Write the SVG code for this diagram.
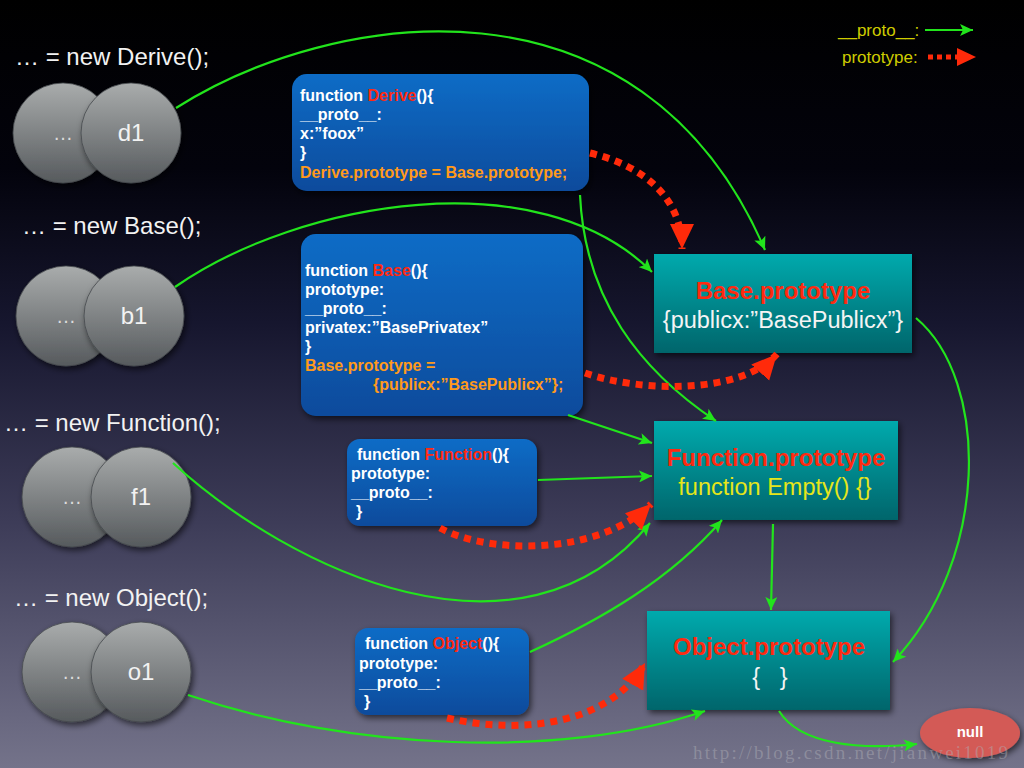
<svg xmlns="http://www.w3.org/2000/svg" width="1024" height="768" viewBox="0 0 1024 768">
<defs>
<linearGradient id="bg" x1="0" y1="0" x2="0" y2="1">
<stop offset="0" stop-color="#000000"/>
<stop offset="0.22" stop-color="#03030c"/>
<stop offset="0.42" stop-color="#16162e"/>
<stop offset="0.68" stop-color="#3d3c58"/>
<stop offset="1" stop-color="#74738a"/>
</linearGradient>
<linearGradient id="blue" x1="0" y1="0" x2="0" y2="1">
<stop offset="0" stop-color="#0b6cc6"/>
<stop offset="1" stop-color="#0a4b9c"/>
</linearGradient>
<linearGradient id="teal" x1="0" y1="0" x2="0" y2="1">
<stop offset="0" stop-color="#04aaad"/>
<stop offset="1" stop-color="#03656b"/>
</linearGradient>
<linearGradient id="ball" x1="0" y1="0" x2="0" y2="1">
<stop offset="0" stop-color="#a9acac"/>
<stop offset="1" stop-color="#565a5d"/>
</linearGradient>
<filter id="sh" x="-10%" y="-10%" width="130%" height="130%">
<feDropShadow dx="2" dy="3" stdDeviation="3" flood-color="#000" flood-opacity="0.6"/>
</filter>
<marker id="ga" markerUnits="userSpaceOnUse" markerWidth="14" markerHeight="12" refX="13" refY="6" orient="auto">
<path d="M0,0 L13,6 L0,12 L3,6 z" fill="#22e41c"/>
</marker>
<marker id="ra" markerUnits="userSpaceOnUse" markerWidth="26" markerHeight="26" refX="25" refY="12" orient="auto">
<path d="M0,0 L25,12 L0,24 z" fill="#ff2a0a"/>
</marker>
<style>
.g{fill:none;stroke:#22e41c;stroke-width:2.2;marker-end:url(#ga)}
.r{fill:none;stroke:#ff2a0a;stroke-width:7;stroke-dasharray:7 6;marker-end:url(#ra)}
.code{fill:url(#blue);filter:url(#sh)}
.proto{fill:url(#teal);filter:url(#sh)}
.ct{font-family:"Liberation Sans",Arial,sans-serif;font-weight:bold;font-size:16px;fill:#ffffff}
.rd{fill:#ff2a10}
.or{fill:#ff9a1a}
.hd{font-family:"Liberation Sans",Arial,sans-serif;font-size:24px;fill:#f2f2f2}
.ball{fill:url(#ball);stroke:#44484b;stroke-width:0.8;filter:url(#sh)}
.bl{font-family:"Liberation Sans",Arial,sans-serif;font-size:24px;fill:#f2f2f2;text-anchor:middle}
.dots{font-family:"Liberation Sans",Arial,sans-serif;font-size:20px;fill:#dcdcdc;text-anchor:middle}
.pt{font-family:"Liberation Sans",Arial,sans-serif;font-weight:bold;font-size:24px;fill:#ff2a10;text-anchor:middle}
.ps{font-family:"Liberation Sans",Arial,sans-serif;font-size:23.5px;text-anchor:middle}
.lg{font-family:"Liberation Sans",Arial,sans-serif;font-size:17px;fill:#cfcc00}
</style>
</defs>
<rect width="1024" height="768" fill="url(#bg)"/>

<g id="legend">
<text class="lg" x="838" y="36">__proto__:</text>
<line x1="925" y1="30" x2="973" y2="30" stroke="#22e41c" stroke-width="2.2" marker-end="url(#ga)"/>
<text class="lg" x="842" y="63">prototype:</text>
<line x1="928" y1="57" x2="957" y2="57" stroke="#ff2a0a" stroke-width="5" stroke-dasharray="5 4"/>
<path d="M957,48 L976,57 L957,66 z" fill="#ff2a0a"/>
</g>

<g id="obj-d1">
<text class="hd" x="15" y="65">… = new Derive();</text>
<circle class="ball" cx="63" cy="133" r="50"/>
<circle class="ball" cx="131" cy="133" r="50"/>
<text class="dots" x="63" y="140">…</text>
<text class="bl" x="131" y="141">d1</text>
</g>
<g id="obj-b1">
<text class="hd" x="22" y="234">… = new Base();</text>
<circle class="ball" cx="66" cy="316" r="50"/>
<circle class="ball" cx="134" cy="316" r="50"/>
<text class="dots" x="66" y="323">…</text>
<text class="bl" x="134" y="324">b1</text>
</g>
<g id="obj-f1">
<text class="hd" x="4" y="431">… = new Function();</text>
<circle class="ball" cx="72" cy="497" r="50"/>
<circle class="ball" cx="141" cy="497" r="50"/>
<text class="dots" x="72" y="504">…</text>
<text class="bl" x="141" y="505">f1</text>
</g>
<g id="obj-o1">
<text class="hd" x="14" y="606">… = new Object();</text>
<circle class="ball" cx="72" cy="672" r="50"/>
<circle class="ball" cx="141" cy="672" r="50"/>
<text class="dots" x="72" y="679">…</text>
<text class="bl" x="141" y="680">o1</text>
</g>

<g id="code-derive">
<rect class="code" x="292" y="74" width="297" height="117" rx="15"/>
<text class="ct" x="300" y="101">function <tspan class="rd">Derive</tspan>(){</text>
<text class="ct" x="300" y="120">__proto__:</text>
<text class="ct" x="300" y="139">x:”foox”</text>
<text class="ct" x="300" y="158">}</text>
<text class="ct or" x="300" y="178">Derive.prototype = Base.prototype;</text>
</g>

<g id="code-base">
<rect class="code" x="301" y="234" width="282" height="182" rx="15"/>
<text class="ct" x="305" y="276">function <tspan class="rd">Base</tspan>(){</text>
<text class="ct" x="305" y="295">prototype:</text>
<text class="ct" x="305" y="314">__proto__:</text>
<text class="ct" x="305" y="333">privatex:”BasePrivatex”</text>
<text class="ct" x="305" y="352">}</text>
<text class="ct or" x="305" y="371">Base.prototype =</text>
<text class="ct or" x="373" y="390">{publicx:”BasePublicx”};</text>
</g>

<g id="code-function">
<rect class="code" x="347" y="439" width="190" height="87" rx="13"/>
<text class="ct" x="357" y="460">function <tspan class="rd">Function</tspan>(){</text>
<text class="ct" x="351" y="479">prototype:</text>
<text class="ct" x="351" y="498">__proto__:</text>
<text class="ct" x="356" y="517">}</text>
</g>

<g id="code-object">
<rect class="code" x="355" y="628" width="174" height="87" rx="13"/>
<text class="ct" x="365" y="649">function <tspan class="rd">Object</tspan>(){</text>
<text class="ct" x="359" y="669">prototype:</text>
<text class="ct" x="359" y="688">__proto__:</text>
<text class="ct" x="364" y="707">}</text>
</g>

<g id="base-prototype">
<rect class="proto" x="654" y="254" width="258" height="99"/>
<text class="pt" x="783" y="299">Base.prototype</text>
<text class="ps" x="783" y="328" fill="#f4f4f4">{publicx:”BasePublicx”}</text>
</g>

<g id="function-prototype">
<rect class="proto" x="654" y="421" width="244" height="99"/>
<text class="pt" x="776" y="466">Function.prototype</text>
<text class="ps" x="775" y="495" fill="#e6e61a">function Empty() {}</text>
</g>

<g id="object-prototype">
<rect class="proto" x="647" y="611" width="243" height="99"/>
<text class="pt" x="769" y="655">Object.prototype</text>
<text class="ps" x="770" y="685" fill="#f4f4f4" xml:space="preserve">{   }</text>
</g>

<g id="null">
<ellipse cx="970" cy="733" rx="50" ry="25" fill="#d35a56" filter="url(#sh)"/>
<text x="970" y="737" font-family="Liberation Sans, Arial, sans-serif" font-weight="bold" font-size="15" fill="#ffffff" text-anchor="middle">null</text>
</g>

<g id="connectors">
<path class="g" d="M176,108 C330,10 640,-40 765,250"/>
<path class="g" d="M175,287 C300,200 540,160 652,272"/>
<path class="g" d="M580,195 C585,300 640,370 716,421"/>
<path class="g" d="M568,415 L652,443"/>
<path class="g" d="M538,480 L652,476"/>
<path class="g" d="M173,463 C290,570 520,680 650,523"/>
<path class="g" d="M530,652 C600,620 670,580 722,520"/>
<path class="g" d="M773,524 L771,610"/>
<path class="g" d="M916,318 C990,380 990,560 893,662"/>
<path class="g" d="M188,695 C350,750 560,760 705,711"/>
<path class="g" d="M779,711 C800,745 860,750 917,744"/>
<path class="r" d="M590,153 C640,165 682,195 682,249"/>
<path class="r" d="M585,373 C640,392 740,395 777,354"/>
<path class="r" d="M440,528 C490,555 600,555 651,504"/>
<path class="r" d="M447,718 C520,735 610,725 645,663"/>
</g>

<text x="693" y="759" font-family="Liberation Serif, serif" font-size="19" fill="#b0b0b8" fill-opacity="0.45" textLength="315">http://blog.csdn.net/jianwei1019</text>
</svg>
